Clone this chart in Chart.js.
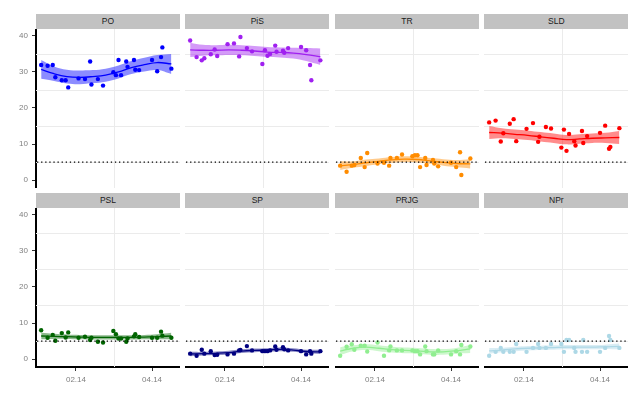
<!DOCTYPE html>
<html>
<head>
<meta charset="utf-8">
<script src="https://cdn.jsdelivr.net/npm/chart.js@4/dist/chart.umd.min.js"></script>
<style>
  body { margin: 0; background: #fff; font-family: "Liberation Sans", Arial, sans-serif; }
  #wrap { position: relative; width: 643px; height: 397px; overflow: hidden; }
  .strip { position: absolute; height: 15px; background: #c2c2c2; color: #1a1a1a;
           font-size: 8.5px; line-height: 15px; text-align: center; }
  canvas { position: absolute; }
</style>
</head>
<body>
<div id="wrap"></div>
<script>
// poll dates, days since 01.01.2014
const days = [4, 9, 13, 15, 20, 23, 25, 33, 38, 42, 43, 48, 52, 60, 62, 64, 66, 70, 71, 76, 77, 80, 90, 94, 97, 98, 105];

const poVals   = [31.9, 31.7, 31.9, 28.5, 27.7, 27.7, 25.7, 28.2, 28.0, 32.9, 26.5, 28.0, 26.2, 29.9, 29.1, 33.3, 29.1, 32.9, 31.4, 33.3, 30.6, 30.5, 33.3, 30.2, 34.1, 36.8, 30.9];
const pisVals  = [38.7, 34.1, 33.2, 33.8, 34.9, 36.2, 34.4, 37.7, 37.9, 34.3, 39.7, 36.6, 35.7, 32.2, 36.0, 34.5, 35.0, 37.3, 35.6, 35.9, 35.3, 36.6, 36.9, 36.0, 31.9, 27.7, 33.2];
const trVals   = [4.0, 2.3, 4.0, 4.2, 6.1, 3.6, 7.5, 4.6, 4.8, 4.0, 6.1, 6.1, 7.1, 6.6, 6.9, 6.9, 3.6, 6.1, 4.2, 5.6, 4.6, 3.8, 4.8, 3.6, 7.7, 1.4, 6.0];
const sldVals  = [16.0, 16.5, 10.7, 13.0, 15.6, 16.9, 10.8, 14.2, 15.8, 10.6, 12.0, 14.7, 14.3, 9.0, 14.0, 8.1, 12.8, 10.8, 9.6, 13.6, 10.3, 12.2, 13.1, 15.1, 8.7, 9.2, 14.4];
const pslVals  = [8.0, 5.9, 6.7, 5.1, 7.2, 6.0, 7.4, 5.9, 6.2, 5.3, 5.9, 4.8, 4.6, 7.8, 6.9, 5.7, 5.7, 4.8, 5.7, 6.3, 6.9, 6.1, 5.9, 5.9, 7.6, 6.5, 5.9];
const spVals   = [1.5, 0.9, 2.6, 1.5, 2.2, 1.1, 1.2, 1.3, 1.5, 2.4, 2.5, 3.6, 2.4, 2.2, 2.2, 2.2, 2.4, 3.5, 2.6, 3.3, 2.7, 2.4, 2.2, 1.3, 2.2, 1.5, 2.2];
const prjgVals = [0.9, 3.4, 4.1, 2.6, 3.7, 3.7, 2.1, 4.6, 0.9, 2.4, 3.5, 2.4, 2.4, 2.4, 2.2, 2.2, 1.3, 3.5, 2.2, 1.3, 1.3, 2.4, 1.3, 2.2, 1.3, 3.9, 3.5];
const nprVals  = [0.9, 2.0, 3.1, 2.0, 2.0, 2.0, 4.2, 2.0, 3.1, 4.2, 3.1, 3.1, 4.2, 4.2, 2.0, 5.3, 5.3, 3.1, 2.0, 2.0, 5.3, 2.0, 2.0, 3.1, 6.4, 5.3, 3.1];

// smoothed trend and its band half-width
const fitDays = [4, 14, 24, 34, 44, 54, 64, 74, 84, 94, 105];
const poFit   = [30.7, 29.5, 28.7, 28.5, 28.7, 29.1, 30.0, 31.2, 32.0, 32.6, 32.2];
const poBand  = [2.6, 2.0, 1.9, 1.9, 1.8, 1.8, 1.8, 1.8, 1.9, 2.1, 2.8];
const pisFit  = [36.1, 36.0, 36.0, 36.1, 36.0, 35.8, 35.5, 35.4, 35.2, 34.8, 34.2];
const pisBand = [2.0, 1.5, 1.4, 1.4, 1.4, 1.4, 1.4, 1.4, 1.5, 1.8, 2.3];
const trFit   = [4.0, 4.3, 4.8, 5.2, 5.6, 5.8, 5.7, 5.3, 4.9, 4.6, 4.5];
const trBand  = [1.2, 0.9, 0.9, 0.8, 0.8, 0.8, 0.8, 0.8, 0.9, 1.0, 1.3];
const sldFit  = [13.2, 13.0, 12.7, 12.4, 12.0, 11.6, 11.2, 11.4, 11.6, 11.7, 11.8];
const sldBand = [1.8, 1.4, 1.3, 1.3, 1.3, 1.3, 1.3, 1.3, 1.3, 1.4, 1.8];
const pslFit  = [6.4, 6.3, 6.2, 6.1, 6.0, 6.0, 6.0, 6.0, 6.1, 6.2, 6.4];
const pslBand = [0.9, 0.7, 0.6, 0.6, 0.6, 0.6, 0.6, 0.6, 0.6, 0.7, 0.9];
const spFit   = [1.4, 1.5, 1.6, 1.8, 2.2, 2.4, 2.5, 2.7, 2.5, 2.1, 2.0];
const spBand  = [0.6, 0.5, 0.5, 0.5, 0.5, 0.5, 0.5, 0.5, 0.5, 0.5, 0.6];
const prjgFit = [2.2, 3.0, 3.3, 3.0, 2.6, 2.4, 2.3, 2.0, 2.0, 2.3, 2.8];
const prjgBand= [1.1, 0.8, 0.8, 0.8, 0.8, 0.8, 0.8, 0.8, 0.8, 0.8, 1.1];
const nprFit  = [2.3, 2.5, 2.8, 3.0, 3.1, 3.2, 3.3, 3.3, 3.3, 3.4, 3.5];
const nprBand = [0.8, 0.6, 0.6, 0.6, 0.6, 0.6, 0.6, 0.6, 0.6, 0.6, 0.8];

const parties = ["PO", "PiS", "TR", "SLD", "PSL", "SP", "PRJG", "NPr"];
const colors  = ["#0000ff", "#a020f0", "#ff8c00", "#ff0000", "#006400", "#000080", "#90ee90", "#add8e6"];
const allVals = [poVals, pisVals, trVals, sldVals, pslVals, spVals, prjgVals, nprVals];
const allFit  = [poFit, pisFit, trFit, sldFit, pslFit, spFit, prjgFit, nprFit];
const allBand = [poBand, pisBand, trBand, sldBand, pslBand, spBand, prjgBand, nprBand];

const yTicks = [0, 10, 20, 30, 40];
const yMinor = [5, 15, 25, 35];
const xTicks = [31, 90];
const xTickLabels = ["02.14", "04.14"];
const xMinor = [60.5];
const threshold = 5;

// panel geometry
const colLeft = [36, 185.3, 335, 484.4];
const rowTop = [29, 208];
const panelW = 144, panelH = 159, stripH = 15, axisW = 36, axisH = 30;

function hexA(hex, a) {
    const n = parseInt(hex.slice(1), 16);
    return `rgba(${n >> 16},${(n >> 8) & 255},${n & 255},${a})`;
}

function noPad(axis) {
    axis.paddingTop = 0; axis.paddingBottom = 0;
    axis.paddingLeft = 0; axis.paddingRight = 0;
}

const minorGrid = {
    id: "minorGrid",
    beforeDatasetsDraw(chart) {
        const { ctx, chartArea: a, scales } = chart;
        ctx.save();
        ctx.strokeStyle = "#ebebeb";
        ctx.lineWidth = 1;
        yMinor.forEach(v => {
            const y = Math.round(scales.y.getPixelForValue(v)) + 0.5;
            ctx.beginPath(); ctx.moveTo(a.left, y); ctx.lineTo(a.right, y); ctx.stroke();
        });
        xMinor.forEach(v => {
            const x = Math.round(scales.x.getPixelForValue(v)) + 0.5;
            ctx.beginPath(); ctx.moveTo(x, a.top); ctx.lineTo(x, a.bottom); ctx.stroke();
        });
        ctx.restore();
    }
};

const refLine = {
    id: "refLine",
    afterDatasetsDraw(chart) {
        const { ctx, chartArea: a, scales } = chart;
        const y = scales.y.getPixelForValue(threshold);
        ctx.save();
        ctx.strokeStyle = "#000";
        ctx.lineWidth = 1.3;
        ctx.setLineDash([1.3, 2.8]);
        ctx.beginPath(); ctx.moveTo(a.left + 1, y); ctx.lineTo(a.right, y); ctx.stroke();
        ctx.restore();
    }
};

const wrap = document.getElementById("wrap");

parties.forEach((name, i) => {
    const col = i % 4, row = Math.floor(i / 4);
    const first = col === 0, bottom = row === 1;

    const strip = document.createElement("div");
    strip.className = "strip";
    strip.textContent = name;
    strip.style.left = colLeft[col] + "px";
    strip.style.top = (rowTop[row] - stripH) + "px";
    strip.style.width = panelW + "px";
    wrap.appendChild(strip);

    const cv = document.createElement("canvas");
    const w = panelW + (first ? axisW : 0);
    const h = panelH + (bottom ? axisH : 0);
    cv.style.left = (colLeft[col] - (first ? axisW : 0)) + "px";
    cv.style.top = rowTop[row] + "px";
    cv.style.width = w + "px";
    cv.style.height = h + "px";
    cv.width = w; cv.height = h;
    wrap.appendChild(cv);

    const c = colors[i];
    const pts = days.map((d, k) => ({ x: d, y: allVals[i][k] }));
    const fit = fitDays.map((d, k) => ({ x: d, y: allFit[i][k] }));
    const hi = fitDays.map((d, k) => ({ x: d, y: allFit[i][k] + allBand[i][k] }));
    const lo = fitDays.map((d, k) => ({ x: d, y: allFit[i][k] - allBand[i][k] }));

    new Chart(cv, {
        type: "scatter",
        data: {
            datasets: [
                { data: pts, backgroundColor: c, borderWidth: 0, pointRadius: 2.2 },
                { type: "line", data: fit, borderColor: c, borderWidth: 1.3, pointRadius: 0, tension: 0.4, fill: false },
                { type: "line", data: hi, borderWidth: 0, borderColor: "transparent", pointRadius: 0, tension: 0.4, fill: false },
                { type: "line", data: lo, borderWidth: 0, borderColor: "transparent", pointRadius: 0, tension: 0.4,
                  fill: "-1", backgroundColor: hexA(c, 0.45) }
            ]
        },
        options: {
            responsive: false,
            animation: false,
            events: [],
            layout: { padding: 0, autoPadding: false },
            plugins: { legend: { display: false }, tooltip: { enabled: false } },
            scales: {
                x: {
                    type: "linear",
                    min: 0, max: 111.7,
                    afterBuildTicks: axis => { axis.ticks = xTicks.map(v => ({ value: v })); },
                    afterFit: axis => { axis.height = bottom ? axisH : 0; noPad(axis); },
                    grid: { drawOnChartArea: false, drawTicks: bottom, tickLength: 4, tickColor: "#333", tickWidth: 1 },
                    border: { display: bottom, color: "#000", width: 2 },
                    ticks: {
                        display: bottom, padding: 4, color: "#808080", maxRotation: 0,
                        font: { family: "Liberation Sans", size: 8 },
                        callback: (v, idx) => xTickLabels[idx]
                    }
                },
                y: {
                    min: -2.2, max: 41.9,
                    afterBuildTicks: axis => { axis.ticks = yTicks.map(v => ({ value: v })); },
                    afterFit: axis => { axis.width = first ? axisW : 0; noPad(axis); },
                    grid: { drawOnChartArea: false, drawTicks: first, tickLength: 4, tickColor: "#333", tickWidth: 1 },
                    border: { display: first, color: "#000", width: 2 },
                    ticks: {
                        display: first, padding: 4, color: "#808080",
                        font: { family: "Liberation Sans", size: 8 }
                    }
                }
            }
        },
        plugins: [minorGrid, refLine]
    });
});
</script>
</body>
</html>
